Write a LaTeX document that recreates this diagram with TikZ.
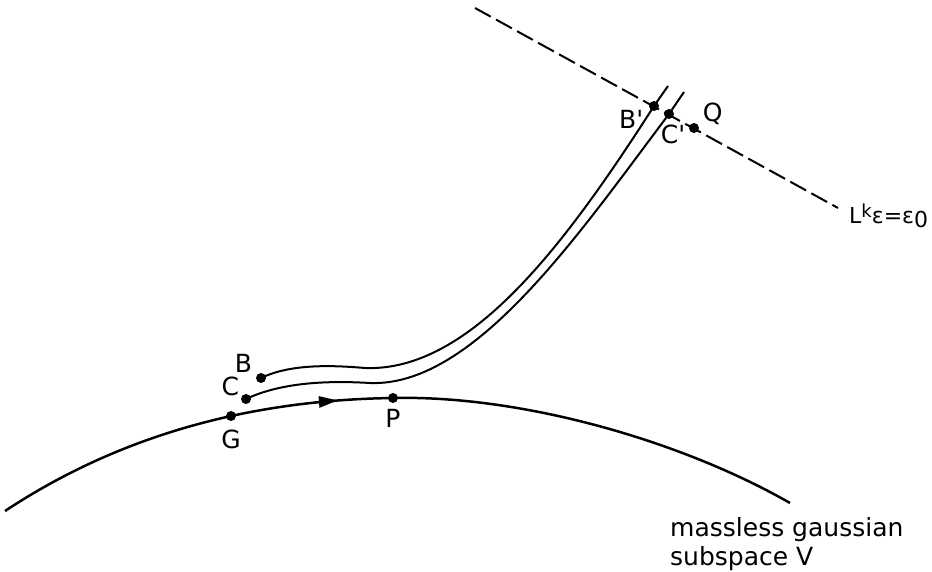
\documentclass[tikz,border=0pt]{standalone}
\usepackage{fontspec}
\setmainfont{DejaVu Sans}
\usetikzlibrary{arrows.meta, positioning, decorations.markings}

\begin{document}
\begin{tikzpicture}[
          x=1pt, y=-1pt,
          dot/.style={circle, fill=black, inner sep=0pt, minimum size=10pt},
          lbl/.style={font=\fontsize{25}{29}\selectfont, inner sep=1pt},
          flowline/.style={line width=2pt},
          subspace/.style={line width=2.5pt},
          dashline/.style={line width=2pt, dash pattern=on 18pt off 6pt},
          arrowmark/.style={postaction={decorate}, decoration={markings,
                        mark=at position 0.43 with {\arrow{Triangle[length=19pt,width=11pt]}}}}
        ]
        \useasboundingbox (0,0) rectangle (932,571);
        \node[dot] (B) at (261,378) {};
        \node[dot] (C) at (246,399) {};
        \node[dot] (G) at (231,416) {};
        \node[dot] (P) at (393,398) {};
        \node[dot] (Bp) at (654,106) {};
        \node[dot] (Cp) at (669,114) {};
        \node[dot] (Q) at (694,128) {};
        \coordinate (Bend) at (668,86);
        \coordinate (Cend) at (684,92);
        \coordinate (Lstart) at (475,8);
        \coordinate (Lend) at (838,208);
        \coordinate (Vstart) at (5,511);
        \coordinate (Vend) at (790,503);
        \node[lbl, above left=1pt and 4pt of B] (labB) {B};
        \node[lbl, above left=-2pt and 2pt of C] (labC) {C};
        \node[lbl, below=8pt of G] (labG) {G};
        \node[lbl, below=5pt of P] (labP) {P};
        \node[lbl, below left=-1pt and 6pt of Bp] (labBp) {B\textquotesingle};
        \node[lbl, below=5pt of Cp, xshift=4pt] (labCp) {C\textquotesingle};
        \node[lbl, above right=-2pt and 4pt of Q] (labQ) {Q};
        \node[lbl, right=10pt of Lend, yshift=-8pt, font=\fontsize{22}{26}\selectfont] (labL)
              {L\raisebox{0.45ex}{\fontsize{18}{18}\selectfont k}ε=ε\raisebox{-0.35ex}{0}};
        \node[lbl, align=left, anchor=north west] (labV) at ([xshift=-121pt, yshift=-13pt]Vend)
              {massless gaussian\\subspace V};
        \draw[dashline] (Lstart) -- (Lend);
        \draw[subspace, arrowmark] (Vstart) .. controls (120,435) and (250,400) .. (P.center)
              .. controls (520,395) and (680,440) .. (Vend);
        \draw[flowline] (B.center) .. controls (290,364) and (330,365) .. (365,368)
              .. controls (470,372) and (565,245) .. (Bp.center) -- (Bend);
        \draw[flowline] (C.center) .. controls (278,384) and (320,380) .. (370,383)
              .. controls (475,387) and (580,232) .. (Cp.center) -- (Cend);
      \end{tikzpicture}
\end{document}
